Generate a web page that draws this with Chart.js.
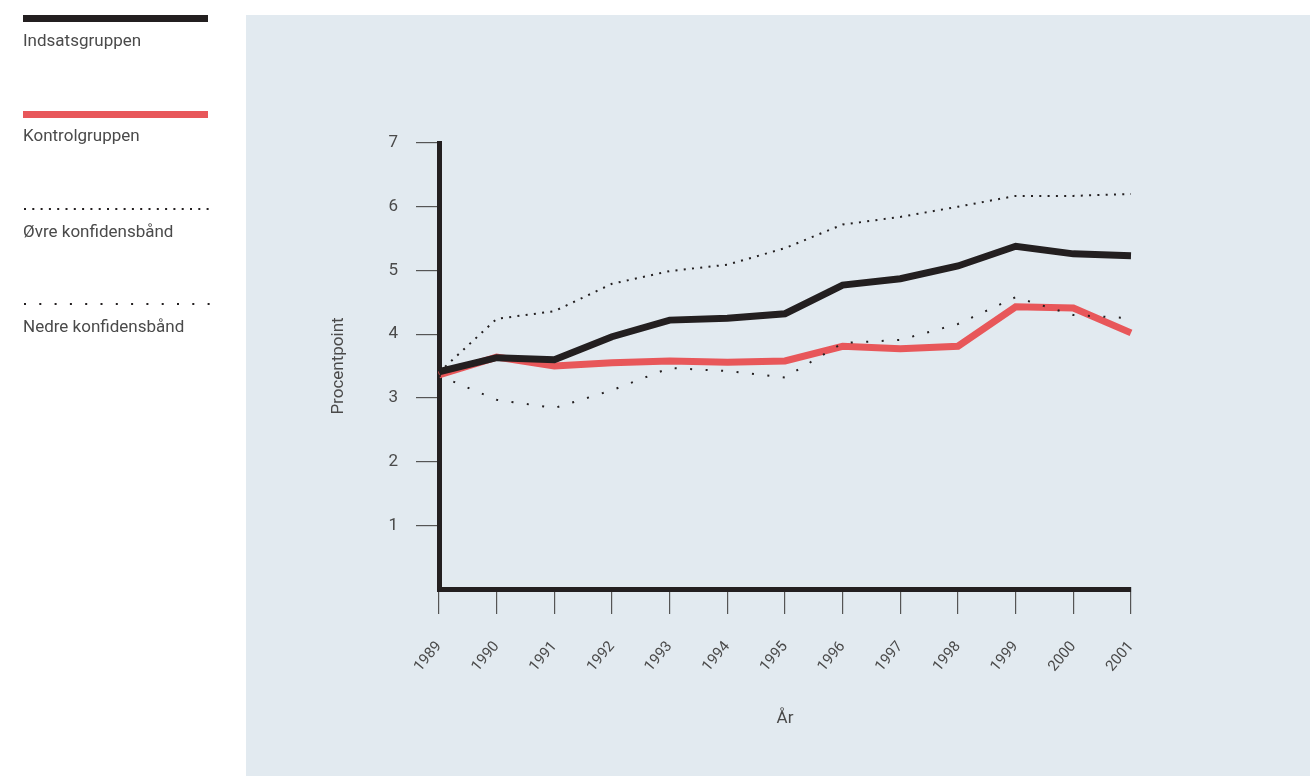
<!DOCTYPE html>
<html>
<head>
<meta charset="utf-8">
<script src="https://cdn.jsdelivr.net/npm/chart.js@4"></script>
<style>
  html, body { margin: 0; padding: 0; background: #fff; }
  #wrap { width: 1310px; height: 776px; position: relative; }
</style>
</head>
<body>
<div id="wrap"><canvas id="chart"></canvas></div>
<script>
const years = ['1989','1990','1991','1992','1993','1994','1995','1996','1997','1998','1999','2000','2001'];
const indsats = [3.41, 3.63, 3.60, 3.96, 4.22, 4.25, 4.32, 4.77, 4.87, 5.07, 5.38, 5.26, 5.23];
const kontrol = [3.36, 3.64, 3.50, 3.55, 3.58, 3.56, 3.58, 3.81, 3.77, 3.81, 4.43, 4.41, 4.02];
const oevre = [3.40, 4.24, 4.36, 4.79, 4.99, 5.09, 5.35, 5.72, 5.84, 6.00, 6.17, 6.17, 6.20];
const nedre = [3.35, 2.97, 2.84, 3.12, 3.47, 3.42, 3.32, 3.86, 3.91, 4.16, 4.58, 4.30, 4.25];
const yTicks = [1, 2, 3, 4, 5, 6, 7];

const BLACK = '#231f20';
const RED = '#e8575a';
const TEXT = '#4a4a4a';
const FONT = 'Roboto, "DejaVu Sans", sans-serif';

// background panel + legend on the left
const panelAndLegend = {
  id: 'panelAndLegend',
  beforeDraw(chart) {
    const ctx = chart.ctx;
    ctx.save();
    ctx.fillStyle = '#e2eaf0';
    ctx.fillRect(246, 15, 1310 - 246, 776 - 15);
    ctx.restore();
  },
  afterDraw(chart) {
    const ctx = chart.ctx;
    ctx.save();
    ctx.font = '17px ' + FONT;
    ctx.textBaseline = 'middle';

    ctx.fillStyle = BLACK;
    ctx.fillRect(23, 15, 185, 7);
    ctx.fillStyle = RED;
    ctx.fillRect(23, 111, 185, 7);

    ctx.fillStyle = BLACK;
    for (let x = 24; x <= 208; x += 8.3) {
      ctx.fillRect(x, 208, 2, 2);
    }
    for (let x = 24; x <= 208; x += 15.3) {
      ctx.fillRect(x, 303, 2, 2);
    }

    ctx.fillStyle = TEXT;
    ctx.fillText('Indsatsgruppen', 23, 42);
    ctx.fillText('Kontrolgruppen', 23, 137);
    ctx.fillText('Øvre konfidensbånd', 23, 233);
    ctx.fillText('Nedre konfidensbånd', 23, 328);
    ctx.restore();
  }
};

new Chart(document.getElementById('chart'), {
  type: 'line',
  data: {
    labels: years,
    datasets: [
      { label: 'Øvre konfidensbånd', data: oevre, borderColor: BLACK, borderWidth: 2,
        borderDash: [2, 6.3], borderCapStyle: 'butt', pointRadius: 0, tension: 0, order: 1 },
      { label: 'Nedre konfidensbånd', data: nedre, borderColor: BLACK, borderWidth: 2,
        borderDash: [2, 13.5], borderCapStyle: 'butt', pointRadius: 0, tension: 0, order: 2 },
      { label: 'Indsatsgruppen', data: indsats, borderColor: BLACK, borderWidth: 7,
        pointRadius: 0, tension: 0, order: 3 },
      { label: 'Kontrolgruppen', data: kontrol, borderColor: RED, borderWidth: 7,
        pointRadius: 0, tension: 0, order: 4 }
    ]
  },
  options: {
    responsive: true,
    maintainAspectRatio: false,
    animation: false,
    layout: { padding: { left: 329, right: 179, top: 143, bottom: 37 } },
    plugins: { legend: { display: false }, tooltip: { enabled: false } },
    scales: {
      x: {
        offset: false,
        afterFit(scale) { scale.height = 150; },
        border: { display: true, color: BLACK, width: 5 },
        grid: { drawOnChartArea: false, drawTicks: true, tickLength: 25, color: '#555', lineWidth: 1.2 },
        ticks: { color: TEXT, font: { family: FONT, size: 15 }, minRotation: 50, maxRotation: 50, padding: 24 },
        title: { display: true, text: 'År', color: TEXT, font: { family: FONT, size: 17 }, padding: { top: 0, bottom: 10 } }
      },
      y: {
        min: 0,
        max: 7,
        afterFit(scale) { scale.width = 110; },
        afterBuildTicks(scale) { scale.ticks = [0].concat(yTicks).map(v => ({ value: v })); },
        border: { display: true, color: BLACK, width: 5 },
        grid: {
          drawOnChartArea: false, drawTicks: true, tickLength: 23, lineWidth: 1.2,
          color: ctx => (ctx.tick && ctx.tick.value === 0) ? 'rgba(0,0,0,0)' : '#555'
        },
        ticks: {
          color: TEXT, font: { family: FONT, size: 17 }, padding: 18,
          callback: v => v === 0 ? '' : v
        },
        title: { display: true, text: 'Procentpoint', color: TEXT, font: { family: FONT, size: 17 }, padding: 0 }
      }
    }
  },
  plugins: [panelAndLegend]
});
</script>
</body>
</html>
